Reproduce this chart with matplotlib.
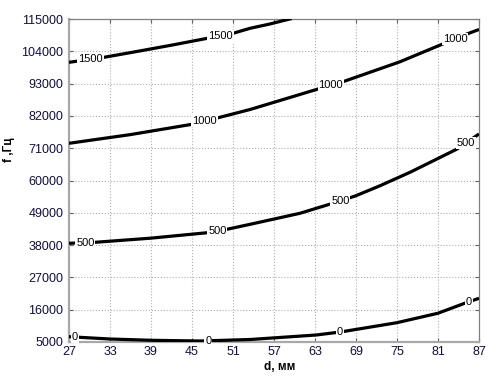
import numpy as np
import matplotlib
matplotlib.use("Agg")
import matplotlib.pyplot as plt

plt.rcParams['font.family'] = ['Liberation Sans', 'DejaVu Sans']

# contour levels and traced curves (d in mm, f in Hz)
d_1500 = [27, 31.8, 36.5, 41.8, 46.3, 51.0, 53.5, 56.4, 59.3, 59.6]
f_1500 = [100250, 101820, 103760, 106000, 108000, 110130, 111830, 113300, 115000, 115150]

d_1000 = [27, 35.9, 45, 48.5, 53.5, 63.3, 67.1, 75.4, 81.7, 85.2, 87]
f_1000 = [72670, 75600, 79140, 81180, 84180, 91060, 93650, 100400, 106500, 109860, 111420]

d_500 = [27, 30.8, 38.9, 47.3, 50.1, 53.5, 60.8, 65.6, 68.9, 72.5, 77.0, 83.8, 87]
f_500 = [38610, 38950, 40350, 42230, 43380, 45080, 48830, 52240, 54730, 58200, 62900, 70730, 75840]

d_0 = [27, 33, 39.1, 46.2, 53.5, 63.2, 66.7, 75.0, 81.0, 85.4, 87]
f_0 = [6800, 6020, 5580, 5340, 5850, 7390, 8400, 11580, 14800, 18620, 19880]

levels = ["1500", "1000", "500", "0"]
label_pos = {
    "1500": [30.15, 49.2],
    "1000": [46.8, 65.3, 83.5],
    "500": [29.4, 48.7, 66.7, 85.1],
    "0": [27.9, 47.4, 66.6, 85.5],
}

xticks = [27, 33, 39, 45, 51, 57, 63, 69, 75, 81, 87]
yticks = [5000, 16000, 27000, 38000, 49000, 60000, 71000, 82000, 93000, 104000, 115000]

fig = plt.figure(figsize=(5.0, 3.89), dpi=100)
ax = fig.add_axes([69/500, 47/389, 410/500, 323/389])

curves = {"1500": (d_1500, f_1500), "1000": (d_1000, f_1000),
          "500": (d_500, f_500), "0": (d_0, f_0)}

ax.set_xlim(27, 87)
ax.set_ylim(5000, 115000)

for lev in levels:
    d, f = curves[lev]
    ax.plot(d, f, color='black', lw=2.3, solid_capstyle='butt', zorder=3)

for lev in levels:
    d, f = curves[lev]
    for xp in label_pos[lev]:
        yp = np.interp(xp, d, f)
        ax.text(xp, yp, lev, fontsize=8, ha='center', va='center',
                zorder=4, clip_on=False,
                bbox=dict(boxstyle='square,pad=0.08', fc='white', ec='none'))

ax.set_xticks(xticks)
ax.set_yticks(yticks)
ax.set_xticklabels([str(v) for v in xticks])
ax.set_yticklabels([str(v) for v in yticks])
ax.grid(True, linestyle=':', color='#b0b0b0', lw=0.8)
ax.set_axisbelow(True)
ax.tick_params(direction='in', length=3, width=0.8, color='#606060',
               labelsize=9, labelcolor='#101038', top=True, right=True)
ax.tick_params(axis='y', pad=4)
ax.tick_params(axis='x', pad=3)

for s in ['left', 'bottom']:
    ax.spines[s].set_color('#a8a8a8')
    ax.spines[s].set_linewidth(1.6)
for s in ['top', 'right']:
    ax.spines[s].set_color('#808080')
    ax.spines[s].set_linewidth(0.9)

fig.text(280/500, 1 - 367/389, 'd, мм', fontsize=8.5, fontweight='bold',
         ha='center', va='center')
fig.text(9/500, 1 - 150/389, 'f ,Гц', fontsize=8.5, fontweight='bold',
         ha='center', va='center', rotation=90)

fig.savefig('out.png', dpi=100)
